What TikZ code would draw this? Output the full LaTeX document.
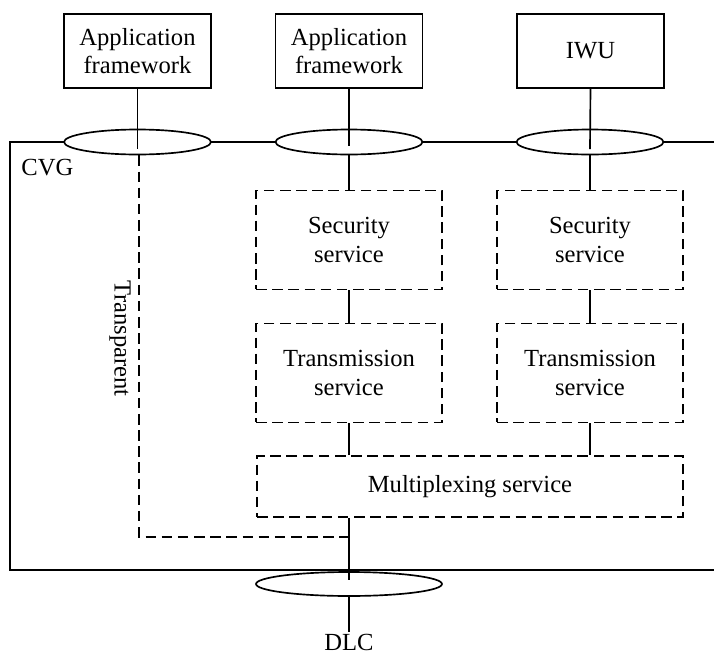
\documentclass[tikz,border=0pt]{standalone}
\usepackage{fontspec}
\setmainfont{Liberation Serif}
\usetikzlibrary{shapes.geometric}

\tikzset{
  appbox/.style={draw, line width=0.95pt, align=center, minimum width=2.94cm, minimum height=1.48cm},
  svcbox/.style={draw, line width=0.95pt, dash pattern=on 6pt off 3.2pt, align=center, minimum width=3.72cm, minimum height=1.98cm},
  iface/.style={draw, ellipse, fill=white, line width=0.95pt, inner sep=0pt, minimum width=2.94cm, minimum height=0.5cm},
  link/.style={line width=0.95pt},
  translink/.style={line width=0.95pt, dash pattern=on 6pt off 3.2pt}
}

\begin{document}
\begin{tikzpicture}[x=0.02cm, y=-0.02cm, font=\fontsize{14}{16}\selectfont]
        \useasboundingbox (0,0) rectangle (714,653);

        %CVG frame
        \draw[link] (714,142) -- (10,142) -- (10,570) -- (714,570);
        \node[anchor=west, inner sep=0pt] (cvg) at (21,168) {CVG};

        %upper entities
        \node[appbox] (app1) at (137.5,51) {Application\\framework};
        \node[appbox] (app2) at (349,51) {Application\\framework};
        \node[appbox] (iwu) at (590.5,51) {IWU};

        %service access points
        \node[iface] (sap1) at (137.5,142) {};
        \node[iface] (sap2) at (349,142) {};
        \node[iface] (sap3) at (590,142) {};
        \node[iface, minimum width=3.72cm, minimum height=0.48cm] (sapdlc) at (349,584) {};

        %services
        \node[svcbox] (sec1) at (349,240) {Security\\service};
        \node[svcbox] (sec2) at (590,240) {Security\\service};
        \node[svcbox] (tx1) at (349,373) {Transmission\\service};
        \node[svcbox] (tx2) at (590,373) {Transmission\\service};
        \node[svcbox, minimum width=8.52cm, minimum height=1.22cm] (mux) at (470,486.5) {Multiplexing service};

        \node[inner sep=1pt] (dlc) at (349,642) {DLC};
        \node[rotate=-90, inner sep=0pt] (transp) at (120,338.5) {Transparent};
        \coordinate (tjoin) at (349,537);

        %connections
        \draw[link] (app1.south) -- ([yshift=-4]sap1.center);
        \draw[link] (app2.south) -- ([yshift=-2]sap2.center);
        \draw[link] (iwu.south) -- ([yshift=-4]sap3.center);
        \draw[link] (sap2.south) -- (sec1.north);
        \draw[link] (sap3.south) -- (sec2.north);
        \draw[link] (sec1.south) -- (tx1.north);
        \draw[link] (sec2.south) -- (tx2.north);
        \draw[link] (tx1.south) -- (tx1.south |- mux.north);
        \draw[link] (tx2.south) -- (tx2.south |- mux.north);
        \draw[link] (mux.south -| sapdlc.center) -- ([yshift=2]sapdlc.center);
        \draw[link] (sapdlc.south) -- (dlc.north);

        % transparent path
        \draw[translink] ([xshift=1]sap1.south) |- (tjoin);

\end{tikzpicture}
\end{document}
